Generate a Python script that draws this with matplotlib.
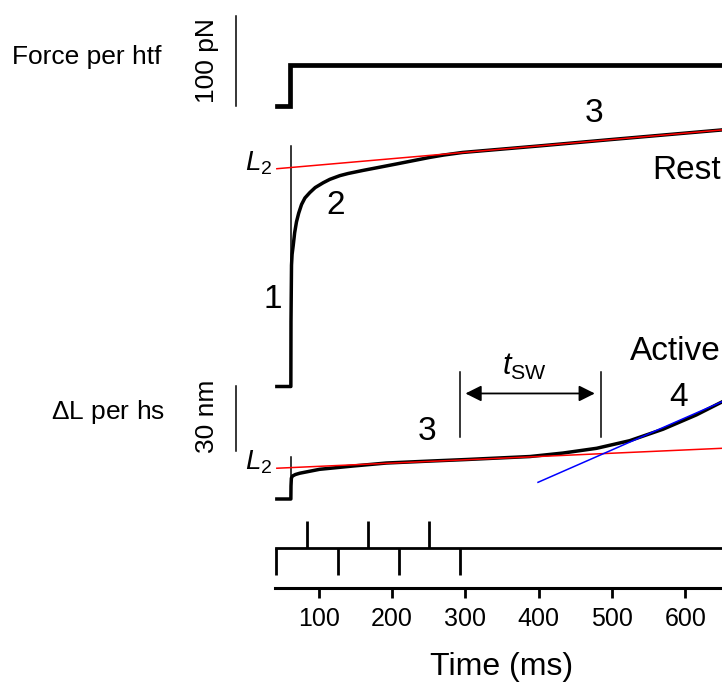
import numpy as np
import matplotlib.pyplot as plt

plt.rcParams['font.family'] = ['Liberation Sans', 'DejaVu Sans']
plt.rcParams['mathtext.fontset'] = 'custom'
plt.rcParams['mathtext.rm'] = 'Liberation Sans'
plt.rcParams['mathtext.it'] = 'Liberation Sans:italic'

# force per half-thick filament (pN)
force_t = [42.7, 61.0, 61.0, 650]
force_pn = [0, 0, 45.5, 45.5]

# rest: length change per half-sarcomere (nm)
rest_t = [42.7, 61.8, 62.0, 62.7, 63.5, 65, 67, 69.5, 72.5, 76.4, 81, 87.7, 95, 105.8,
          115, 128.6, 140, 160, 180, 206, 230, 251, 270, 296, 400, 500, 650]
rest_nm = [0, 0, 30, 56, 61, 65, 71, 76, 80, 84, 87, 89.5, 91.8, 94,
           95.6, 97.3, 98.3, 99.7, 101, 102.7, 104.3, 105.7, 106.8, 108, 111.0, 114.0, 118.4]
rest_fit_t = [42.7, 650]
rest_fit_nm = [100.5, 118.4]

# active: length change per half-sarcomere (nm)
act_t = [42.7, 61.8, 62.0, 62.5, 64, 68, 74, 101, 146, 192, 251, 300, 388, 433, 479, 524, 569.5, 615, 650]
act_nm = [0, 0, 6, 9.6, 10.6, 11.3, 11.9, 13.7, 15.2, 16.6, 17.5, 18.2, 19.6, 21.2, 23.4, 26.9, 32.2, 38.8, 44.8]
act_fit_t = [42.7, 650]
act_fit_nm = [14.2, 23.4]
act_slope_t = [399, 650]
act_slope_nm = [7.7, 44.9]

# t_SW interval (ms)
tsw_start, tsw_end = 292, 485.5

# stimulus markers (ms)
stim_down = [42, 125.5, 209, 292]
stim_up = [84.5, 167, 250.5]

time_ticks = [100, 200, 300, 400, 500, 600]

W, H = 722, 683
fig = plt.figure(figsize=(W / 100, H / 100), dpi=100)
XLIM = (-335, 650)


def panel(top, bottom, base, scale):
    ax = fig.add_axes([0, 1 - bottom / H, 1, (bottom - top) / H])
    ax.set_xlim(*XLIM)
    ax.set_ylim((base - bottom) / scale, (base - top) / scale)
    ax.axis('off')
    ax.patch.set_alpha(0)
    return ax


# force panel
axf = panel(0, 130, 106, 0.9)
axf.plot(force_t, force_pn, color='k', lw=3.4, solid_joinstyle='miter', clip_on=False)
axf.plot([-13, -13], [0, 100], color='k', lw=1.1)
axf.text(-52, 50, '100 pN', rotation=90, ha='center', va='center', fontsize=19)
axf.text(-318, 54, 'Force per htf', ha='left', va='center', fontsize=19)

# rest panel
axr = panel(90, 395, 386.5, 2.167)
axr.plot([rest_t[1], rest_t[1]], [0, 111], color='k', lw=1.1)
axr.plot(rest_t, rest_nm, color='k', lw=2.5, solid_joinstyle='round', clip_on=False)
axr.plot(rest_fit_t, rest_fit_nm, color='red', lw=1.1, clip_on=False)
axr.text(37, 103, '$L_2$', ha='right', va='center', fontsize=20)
axr.text(37, 40, '1', ha='center', va='center', fontsize=24)
axr.text(123, 83.5, '2', ha='center', va='center', fontsize=24)
axr.text(475, 126, '3', ha='center', va='center', fontsize=24)
axr.text(648, 99.5, 'Rest', ha='right', va='center', fontsize=24)

# active panel
axa = panel(330, 510, 499, 2.167)
axa.plot([act_t[1], act_t[1]], [0, 19.4], color='k', lw=1.1)
axa.plot(act_t, act_nm, color='k', lw=2.5, solid_joinstyle='round', clip_on=False)
axa.plot(act_fit_t, act_fit_nm, color='red', lw=1.1, clip_on=False)
axa.plot(act_slope_t, act_slope_nm, color='blue', lw=1.1, clip_on=False)
axa.plot([-13, -13], [22, 52], color='k', lw=1.1)
axa.text(-52, 38, '30 nm', rotation=90, ha='center', va='center', fontsize=19)
axa.text(-265, 40, r'$\Delta$L per hs', ha='left', va='center', fontsize=19)
axa.text(37, 17, '$L_2$', ha='right', va='center', fontsize=20)
axa.text(247.5, 31, '3', ha='center', va='center', fontsize=24)
axa.text(591, 47, '4', ha='center', va='center', fontsize=24)
axa.text(648, 68, 'Active', ha='right', va='center', fontsize=24)
for t in (tsw_start, tsw_end):
    axa.plot([t, t], [28.6, 58.6], color='k', lw=1.1)
axa.annotate('', xy=(tsw_end - 9, 48.7), xytext=(tsw_start + 8, 48.7),
             arrowprops=dict(arrowstyle='<|-|>', color='k', lw=1.3,
                             mutation_scale=24, shrinkA=0, shrinkB=0))
axa.text(381, 61, r'$t_{\mathrm{SW}}$', ha='center', va='center', fontsize=22)

# stimulus + time axis
axs = fig.add_axes([0, 1 - 588 / H, 1, 78 / H])
axs.set_xlim(*XLIM)
axs.set_ylim(-1.5, 1.42)
axs.patch.set_alpha(0)
axs.plot([stim_down[0], XLIM[1]], [0, 0], color='k', lw=2, clip_on=False)
for t in stim_down:
    axs.plot([t, t], [-1, 0], color='k', lw=2, solid_capstyle='butt')
for t in stim_up:
    axs.plot([t, t], [0, 1], color='k', lw=2, solid_capstyle='butt')
for s in ('top', 'right', 'left'):
    axs.spines[s].set_visible(False)
axs.spines['bottom'].set_linewidth(2.2)
axs.spines['bottom'].set_bounds(40, 650)
axs.set_yticks([])
axs.set_xticks(time_ticks)
axs.tick_params(axis='x', direction='out', length=7, width=2, labelsize=18, pad=7)
axs.set_xlabel('Time (ms)', fontsize=23)
axs.xaxis.set_label_coords(502 / W, -(667 - 588) / 78)
axs.xaxis.label.set_va('center')

fig.savefig('out.png', dpi=100)
